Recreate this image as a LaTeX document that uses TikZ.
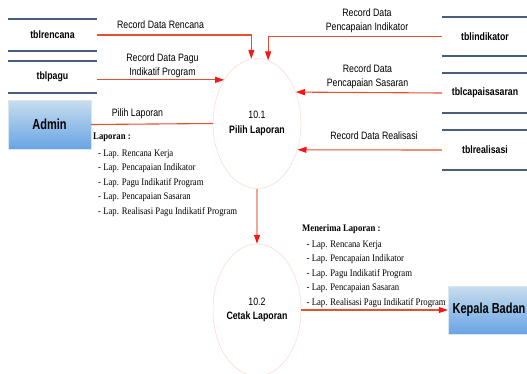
\documentclass[tikz,border=0pt]{standalone}
\usepackage{fontspec}
\usepackage{xcolor}
\usepackage{tikz}
\usetikzlibrary{shapes.geometric, arrows.meta}
\newfontfamily\narrowsans{Liberation Sans}[FakeStretch=0.82]
\newfontfamily\boxsans{Liberation Sans}[FakeStretch=0.76]
\newfontfamily\narrowserif{Liberation Serif}[FakeStretch=0.87]
\definecolor{flowred}{RGB}{226,82,50}
\definecolor{tipred}{RGB}{250,20,20}
\definecolor{storeblue}{RGB}{70,96,124}
\definecolor{bubble}{RGB}{252,214,202}
\definecolor{linkpink}{RGB}{240,168,150}
\definecolor{boxtop}{RGB}{200,221,238}
\definecolor{boxbottom}{RGB}{104,164,228}

\begin{document}
\begin{tikzpicture}[x=1pt, y=-1pt,
    every node/.style={font=\narrowsans\fontsize{10.7}{14.5}\selectfont},
    flow/.style={draw=flowred, line width=1.1pt, -{Triangle[length=9pt, width=6pt, color=tipred]}},
    storeline/.style={draw=storeblue, line width=1.8pt},
    store/.style={minimum height=31pt, minimum width=89pt, inner sep=0pt,
        font=\narrowsans\bfseries\fontsize{10.7}{13}\selectfont},
    entity/.style={draw=boxtop!70!white, top color=boxtop, bottom color=boxbottom, inner sep=0pt,
        font=\boxsans\bfseries\fontsize{14.5}{16}\selectfont},
    process/.style={ellipse, draw=bubble, line width=0.5pt, align=center, inner sep=0pt,
        minimum width=88pt, minimum height=130pt},
    report/.style={align=left, inner sep=0pt, anchor=north west,
        font=\narrowserif\fontsize{10}{14.5}\selectfont}]
   % Frame of the picture
   \useasboundingbox (0,0) rectangle (527,373);

    % Data stores
    \node[store] (rencana) at (52.5,35) {tblrencana};
    \node[store, minimum height=32pt] (pagu) at (52.5,77) {tblpagu};
    \node[store, minimum height=39pt, minimum width=86pt] (indikator) at (485,36.5) {tblindikator};
    \node[store, minimum height=40pt, minimum width=86pt] (sasaran) at (485,93) {tblcapaisasaran};
    \node[store, minimum height=40pt, minimum width=86pt] (realisasi) at (485,150) {tblrealisasi};
    \foreach \s in {rencana, pagu, indikator, sasaran, realisasi}
        \draw[storeline] (\s.north west) -- (\s.north east) (\s.south west) -- (\s.south east);

    % External entities
    \node[entity, minimum width=83pt, minimum height=49pt] (admin) at (49.5,124.5) {Admin};
    \node[entity, minimum width=82pt, minimum height=48pt] (kepala) at (489,310) {Kepala Badan};

    % Processes
    \node[process] (p1) at (257,123.5) {10.1\\\textbf{Pilih Laporan}};
    \node[process, minimum height=132pt] (p2) at (257,310) {10.2\\\textbf{Cetak Laporan}};

    % Data flows into 10.1
    \draw[flow] (rencana.east) -| (p1.95);
    \node (lblrencana) at (160.5,24.5) {Record Data Rencana};
    \draw[flow] (pagu.east |- p1.127.5) -- (p1.127.5);
    \node[align=center] (lblpagu) at (162.5,65.5) {Record Data Pagu\\Indikatif Program};
    \draw[draw=flowred, line width=1.1pt] (admin.east) -- (p1.west);
    \node (lblpilih) at (137.5,114) {Pilih Laporan};
    \draw[flow] (indikator.west) -| (p1.80);
    \node[align=center] (lblindikator) at (367,20.5) {Record Data\\Pencapaian Indikator};
    \draw[flow] (sasaran.west) -- (p1.39);
    \node[align=center] (lblsasaran) at (367.5,76.7) {Record Data\\Pencapaian Sasaran};
    \draw[flow] (realisasi.west) -- (p1.-33);
    \node (lblrealisasi) at (374,136) {Record Data Realisasi};

    % 10.1 to 10.2 and out to Kepala Badan
    \draw[flow, draw=linkpink, line width=1.5pt] (p1.south) -- (p2.north);
    \node[report] (laporan) at (93,133) {\textbf{Laporan :}\\[2pt]
        \hspace*{5pt}- Lap. Rencana Kerja\\
        \hspace*{5pt}- Lap. Pencapaian Indikator\\
        \hspace*{5pt}- Lap. Pagu Indikatif Program\\
        \hspace*{5pt}- Lap. Pencapaian Sasaran\\
        \hspace*{5pt}- Lap. Realisasi Pagu Indikatif Program};
    \draw[flow] (p2.east) -- (kepala.west);
    \node[report] (menerima) at (302,224.5) {\textbf{Menerima Laporan :}\\[1pt]
        \hspace*{4.5pt}- Lap. Rencana Kerja\\
        \hspace*{4.5pt}- Lap. Pencapaian Indikator\\
        \hspace*{4.5pt}- Lap. Pagu Indikatif Program\\
        \hspace*{4.5pt}- Lap. Pencapaian Sasaran\\
        \hspace*{4.5pt}- Lap. Realisasi Pagu Indikatif Program};
\end{tikzpicture}
\end{document}
